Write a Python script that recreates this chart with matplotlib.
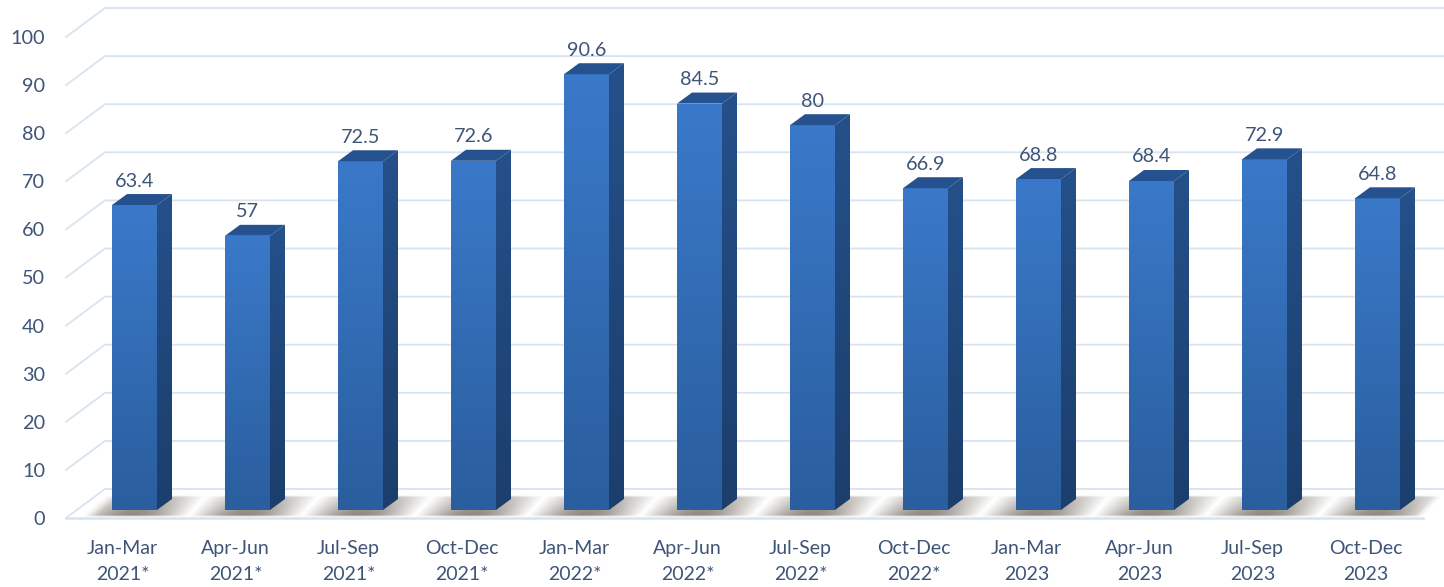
import numpy as np
import matplotlib
matplotlib.use("Agg")
import matplotlib.pyplot as plt
from matplotlib.colors import LinearSegmentedColormap
from matplotlib.patches import Polygon

plt.rcParams['font.family'] = ['Lato', 'DejaVu Sans']

categories = ["Jan-Mar\n2021*", "Apr-Jun\n2021*", "Jul-Sep\n2021*", "Oct-Dec\n2021*",
              "Jan-Mar\n2022*", "Apr-Jun\n2022*", "Jul-Sep\n2022*", "Oct-Dec\n2022*",
              "Jan-Mar\n2023", "Apr-Jun\n2023", "Jul-Sep\n2023", "Oct-Dec\n2023"]
values = [63.4, 57, 72.5, 72.6, 90.6, 84.5, 80, 66.9, 68.8, 68.4, 72.9, 64.8]
value_labels = ["63.4", "57", "72.5", "72.6", "90.6", "84.5", "80", "66.9", "68.8", "68.4", "72.9", "64.8"]
y_ticks = [0, 10, 20, 30, 40, 50, 60, 70, 80, 90, 100]

W, H = 1444, 587
PX_X = 113.0    # pixels per category
PX_Y = 4.81     # pixels per unit
TEXT = "#3f5578"
GRID = "#d8e3f0"

fig = plt.figure(figsize=(W / 100, H / 100), dpi=100, facecolor="white")
ax = fig.add_axes([66 / W, (H - 518) / H, (W - 66) / W, 518 / H])
xlim = (-0.5, (W - 122.5) / PX_X)
ylim = (0, 518 / PX_Y)

# oblique depth, in data units
back_x, back_y = 39 / PX_X, 29 / PX_Y
bar_shift_x, bar_base = 12 / PX_X, 8 / PX_Y
side_x, side_y = 15 / PX_X, 11 / PX_Y
bar_w = 45 / PX_X

front_cm = LinearSegmentedColormap.from_list("front", ["#2a5e9e", "#3a79c9"])
side_cm = LinearSegmentedColormap.from_list("side", ["#1b3e6c", "#25508a"])
ramp = np.linspace(1, 0, 128).reshape(-1, 1)


def gradient_poly(points, cmap, zorder):
    xs = [p[0] for p in points]
    ys = [p[1] for p in points]
    im = ax.imshow(ramp, cmap=cmap, aspect="auto", zorder=zorder, vmin=0, vmax=1,
                   extent=(min(xs), max(xs), min(ys), max(ys)))
    patch = Polygon(points, closed=True, transform=ax.transData, fc="none", ec="none")
    ax.add_patch(patch)
    im.set_clip_path(patch)


# gridlines on the back wall and the slanted left wall
for v in y_ticks:
    ax.plot([xlim[0], xlim[0] + back_x, xlim[1]], [v, v + back_y, v + back_y],
            color=GRID, lw=1.3, zorder=1, clip_on=False)
ax.plot([xlim[0], (1423 - 122.5) / PX_X], [0, 0],
        color=GRID, lw=1.8, zorder=1, clip_on=False)

# floor shadow
px = np.arange(66, W, 1.0)
t = np.linspace(0, 1, 46)
PX, T = np.meshgrid(px, t)
phase = ((PX - 187 - 20 * (1 - T)) % PX_X) / PX_X
dark = np.sin(np.pi * phase) ** 1.1
dark = dark * (0.6 + 0.4 * T) * np.clip((PX - 80 - 25 * (1 - T)) / 14, 0, 1)
dark = dark * np.clip((1423 + 21 * (1 - T) - PX) / 10, 0, 1)
dark = dark * np.clip((1 - T) / 0.08, 0, 1) * np.clip(T / 0.1, 0, 1)
shadow = np.zeros(dark.shape + (4,))
shadow[..., :3] = matplotlib.colors.to_rgb("#8a837c")
shadow[..., 3] = dark
ax.imshow(shadow, aspect="auto", zorder=2, interpolation="bilinear",
          extent=((66 - 122.5) / PX_X, (W - 122.5) / PX_X, 1 / PX_Y, 23 / PX_Y))

# bars: front, side and top faces
for i, v in enumerate(values):
    x0 = i + bar_shift_x - bar_w / 2
    x1 = x0 + bar_w
    y0 = bar_base
    y1 = bar_base + v
    gradient_poly([(x0, y0), (x1, y0), (x1, y1), (x0, y1)], front_cm, 4)
    gradient_poly([(x1, y0), (x1 + side_x, y0 + side_y), (x1 + side_x, y1 + side_y), (x1, y1)], side_cm, 4)
    ax.add_patch(Polygon([(x0, y1), (x1, y1), (x1 + side_x, y1 + side_y), (x0 + side_x, y1 + side_y)],
                         closed=True, fc="#25528f", ec="none", zorder=4))
    ax.text(i + bar_shift_x, y1 + side_y + 13 / PX_Y, value_labels[i], ha="center", va="center",
            fontsize=14.3, color=TEXT, zorder=5)

ax.set_xticks(range(len(categories)))
ax.set_xticklabels(categories, linespacing=1.65, fontsize=14)
ax.set_yticks(y_ticks)
ax.tick_params(axis="y", length=0, labelsize=14.3, labelcolor=TEXT, pad=15)
ax.tick_params(axis="x", length=0, labelcolor=TEXT, pad=15.5)
for s in ax.spines.values():
    s.set_visible(False)
ax.patch.set_visible(False)
ax.set_xlim(xlim)
ax.set_ylim(ylim)

fig.savefig("out.png", dpi=100)
